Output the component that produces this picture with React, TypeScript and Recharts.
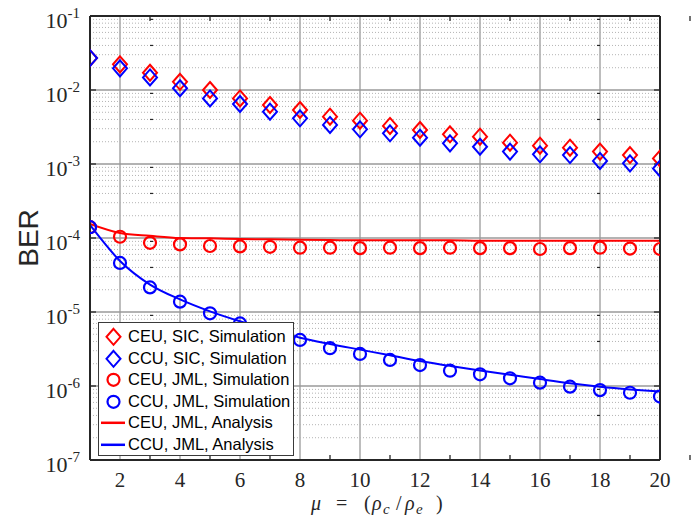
import React from "react";
import { ComposedChart, Line, XAxis, YAxis, CartesianGrid, ReferenceLine, Legend } from "recharts";

const mu = [1, 2, 3, 4, 5, 6, 7, 8, 9, 10, 11, 12, 13, 14, 15, 16, 17, 18, 19, 20];

// SIC simulation (diamonds)
const ceuSicSim = [
  0.027, 0.0222, 0.0171, 0.0129, 0.0100, 0.0077, 0.00627, 0.00537, 0.00436, 0.00385,
  0.00327, 0.00288, 0.00252, 0.00234, 0.00194, 0.00177, 0.00166, 0.00147, 0.00132, 0.00119,
];
const ccuSicSim = [
  0.027, 0.0196, 0.0148, 0.01055, 0.0077, 0.00647, 0.0051, 0.00414, 0.00337, 0.00294,
  0.0026, 0.00227, 0.0019, 0.00171, 0.00147, 0.00135, 0.00132, 0.0011, 0.00102, 0.00087,
];

// JML simulation (circles)
const ceuJmlSim = [
  1.4e-4, 1.04e-4, 8.6e-5, 8.2e-5, 7.8e-5, 7.7e-5, 7.6e-5, 7.4e-5, 7.4e-5, 7.3e-5,
  7.4e-5, 7.3e-5, 7.4e-5, 7.3e-5, 7.3e-5, 7.1e-5, 7.3e-5, 7.4e-5, 7.2e-5, 7.1e-5,
];
const ccuJmlSim = [
  1.4e-4, 4.6e-5, 2.15e-5, 1.38e-5, 9.6e-6, 7.0e-6, 5.4e-6, 4.19e-6, 3.24e-6, 2.71e-6,
  2.25e-6, 1.92e-6, 1.61e-6, 1.44e-6, 1.27e-6, 1.11e-6, 9.8e-7, 8.8e-7, 8.1e-7, 7.2e-7,
];

// JML analysis (lines)
const ceuJmlAna = [
  1.55e-4, 1.17e-4, 1.07e-4, 1.0e-4, 9.9e-5, 9.7e-5, 9.6e-5, 9.5e-5, 9.4e-5, 9.3e-5,
  9.3e-5, 9.3e-5, 9.3e-5, 9.2e-5, 9.2e-5, 9.2e-5, 9.2e-5, 9.2e-5, 9.2e-5, 9.2e-5,
];
const ccuJmlAna = [
  1.5e-4, 4.9e-5, 2.35e-5, 1.48e-5, 1.02e-5, 7.5e-6, 5.8e-6, 4.5e-6, 3.7e-6, 3.1e-6,
  2.6e-6, 2.17e-6, 1.87e-6, 1.62e-6, 1.42e-6, 1.24e-6, 1.09e-6, 0.98e-6, 0.9e-6, 0.84e-6,
];

const xTicks = [2, 4, 6, 8, 10, 12, 14, 16, 18, 20];
const decadeExps = [-7, -6, -5, -4, -3, -2, -1];
const minorMults = [2, 3, 4, 5, 6, 7, 8, 9];

const RED = "#ff0000";
const BLUE = "#0000ff";
const AXIS = "#262626";

const decadeTicks = decadeExps.map((e) => Math.pow(10, e));
const minorTicks = decadeExps.slice(0, -1).flatMap((e) => minorMults.map((m) => m * Math.pow(10, e)));

const data = mu.map((m, i) => ({
  mu: m,
  ceuSic: ceuSicSim[i],
  ccuSic: ccuSicSim[i],
  ceuJml: ceuJmlSim[i],
  ccuJml: ccuJmlSim[i],
  ceuAna: ceuJmlAna[i],
  ccuAna: ccuJmlAna[i],
}));

const legendItems = [
  { label: "CEU, SIC, Simulation", color: RED, kind: "diamond" },
  { label: "CCU, SIC, Simulation", color: BLUE, kind: "diamond" },
  { label: "CEU, JML, Simulation", color: RED, kind: "circle" },
  { label: "CCU, JML, Simulation", color: BLUE, kind: "circle" },
  { label: "CEU, JML, Analysis", color: RED, kind: "line" },
  { label: "CCU, JML, Analysis", color: BLUE, kind: "line" },
];

const diamondPath = (cx: number, cy: number) =>
  `M${cx},${cy - 8}L${cx + 7},${cy}L${cx},${cy + 8}L${cx - 7},${cy}Z`;

const diamondDot = (color: string) => (props: any) => {
  const { cx, cy, index } = props;
  if (cx == null || cy == null) return <g key={index} />;
  return <path key={index} d={diamondPath(cx, cy)} fill="none" stroke={color} strokeWidth={2} />;
};

const circleDot = (color: string) => (props: any) => {
  const { cx, cy, index } = props;
  if (cx == null || cy == null) return <g key={index} />;
  return <circle key={index} cx={cx} cy={cy} r={6} fill="none" stroke={color} strokeWidth={2.2} />;
};

const noTick = () => <g />;

const XTick = ({ x, y, payload }: any) => (
  <text x={x} y={y + 27} textAnchor="middle" fontFamily="Liberation Serif" fontSize={21} fill={AXIS}>
    {payload.value}
  </text>
);

const YTick = ({ x, y, payload }: any) => {
  const exp = Math.round(Math.log10(payload.value));
  return (
    <text x={x} y={y + 12} textAnchor="end" fontFamily="Liberation Serif" fontSize={22} fill={AXIS}>
      <tspan>10</tspan>
      <tspan dy={-10} fontSize={15}>
        {String(exp)}
      </tspan>
    </text>
  );
};

function LegendBox() {
  return (
    <div
      style={{
        width: 196,
        height: 134,
        boxSizing: "border-box",
        border: "1px solid #3a3a3a",
        background: "#fff",
        paddingTop: 3,
        fontFamily: "Liberation Sans",
        fontSize: 16.5,
        color: "#000",
      }}
    >
      {legendItems.map((it) => (
        <div key={it.label} style={{ display: "flex", alignItems: "center", height: 21.6, whiteSpace: "nowrap" }}>
          <svg width={29} height={21.6} style={{ flex: "none" }}>
            {it.kind === "diamond" && <path d={diamondPath(14.5, 10.8)} fill="none" stroke={it.color} strokeWidth={2} />}
            {it.kind === "circle" && <circle cx={14.5} cy={10.8} r={6} fill="none" stroke={it.color} strokeWidth={2.2} />}
            {it.kind === "line" && <line x1={2} x2={26} y1={10.8} y2={10.8} stroke={it.color} strokeWidth={2.5} />}
          </svg>
          <span style={{ lineHeight: "21.6px" }}>{it.label}</span>
        </div>
      ))}
    </div>
  );
}

// x label, laid out like LaTeX math: mu = (rho_c / rho_e)
function XLabel() {
  const base = 510;
  return (
    <text y={base} fontFamily="Liberation Serif" fontSize={20} fill={AXIS}>
      <tspan x={311} fontStyle="italic">μ</tspan>
      <tspan x={336}>=</tspan>
      <tspan x={364}>(</tspan>
      <tspan x={372} fontStyle="italic">ρ</tspan>
      <tspan x={383} y={base + 4} fontStyle="italic" fontSize={15}>c</tspan>
      <tspan x={396} y={base}>/</tspan>
      <tspan x={405} fontStyle="italic">ρ</tspan>
      <tspan x={416} y={base + 4} fontStyle="italic" fontSize={15}>e</tspan>
      <tspan x={436} y={base}>)</tspan>
    </text>
  );
}

export default function App() {
  return (
    <div style={{ position: "absolute", left: 0, top: 0, width: 692, height: 522, background: "#fff" }}>
      <ComposedChart width={692} height={522} data={data} margin={{ top: 16, right: 32, bottom: 22, left: 0 }}>
        <CartesianGrid xAxisId="x" yAxisId="y" stroke="#9a9a9a" strokeWidth={1.3} />
        {minorTicks.map((v) => (
          <ReferenceLine
            key={v}
            xAxisId="x"
            yAxisId="y"
            y={v}
            stroke="#b4b4b4"
            strokeWidth={1}
            strokeDasharray="1 2"
          />
        ))}
        <XAxis
          xAxisId="x"
          dataKey="mu"
          type="number"
          domain={[1, 20]}
          ticks={xTicks}
          height={40}
          tickSize={0}
          tickMargin={0}
          tickLine={false}
          tick={<XTick />}
          axisLine={{ stroke: AXIS, strokeWidth: 2 }}
          allowDataOverflow
        />
        <XAxis
          xAxisId="xb"
          type="number"
          domain={[1, 20]}
          ticks={xTicks}
          orientation="bottom"
          mirror
          tickSize={5}
          tick={noTick}
          tickLine={{ stroke: AXIS, strokeWidth: 1.3 }}
          axisLine={false}
          allowDataOverflow
        />
        <XAxis
          xAxisId="xt"
          type="number"
          domain={[1, 20]}
          ticks={xTicks}
          orientation="top"
          mirror
          tickSize={5}
          tick={noTick}
          tickLine={{ stroke: AXIS, strokeWidth: 1.3 }}
          axisLine={{ stroke: AXIS, strokeWidth: 2 }}
          allowDataOverflow
        />
        <YAxis
          yAxisId="y"
          scale="log"
          domain={[1e-7, 1e-1]}
          ticks={decadeTicks}
          width={90}
          tickSize={0}
          tickMargin={10}
          tickLine={false}
          tick={<YTick />}
          axisLine={{ stroke: AXIS, strokeWidth: 2 }}
          allowDataOverflow
        />
        <YAxis
          yAxisId="yl"
          scale="log"
          domain={[1e-7, 1e-1]}
          ticks={decadeTicks}
          mirror
          tickSize={6}
          tick={noTick}
          tickLine={{ stroke: AXIS, strokeWidth: 1.3 }}
          axisLine={false}
          allowDataOverflow
        />
        <YAxis
          yAxisId="ylm"
          scale="log"
          domain={[1e-7, 1e-1]}
          ticks={minorTicks}
          mirror
          tickSize={3}
          tick={noTick}
          tickLine={{ stroke: AXIS, strokeWidth: 1.2 }}
          axisLine={false}
          allowDataOverflow
        />
        <YAxis
          yAxisId="yr"
          orientation="right"
          scale="log"
          domain={[1e-7, 1e-1]}
          ticks={decadeTicks}
          mirror
          tickSize={6}
          tick={noTick}
          tickLine={{ stroke: AXIS, strokeWidth: 1.3 }}
          axisLine={{ stroke: AXIS, strokeWidth: 2 }}
          allowDataOverflow
        />
        <YAxis
          yAxisId="yrm"
          orientation="right"
          scale="log"
          domain={[1e-7, 1e-1]}
          ticks={minorTicks}
          mirror
          tickSize={3}
          tick={noTick}
          tickLine={{ stroke: AXIS, strokeWidth: 1.2 }}
          axisLine={false}
          allowDataOverflow
        />
        <Line xAxisId="x" yAxisId="y" dataKey="ceuSic" stroke="none" dot={diamondDot(RED)} activeDot={false} isAnimationActive={false} />
        <Line xAxisId="x" yAxisId="y" dataKey="ccuSic" stroke="none" dot={diamondDot(BLUE)} activeDot={false} isAnimationActive={false} />
        <Line xAxisId="x" yAxisId="y" dataKey="ceuJml" stroke="none" dot={circleDot(RED)} activeDot={false} isAnimationActive={false} />
        <Line xAxisId="x" yAxisId="y" dataKey="ccuJml" stroke="none" dot={circleDot(BLUE)} activeDot={false} isAnimationActive={false} />
        <Line xAxisId="x" yAxisId="y" type="monotone" dataKey="ceuAna" stroke={RED} strokeWidth={2} dot={false} activeDot={false} isAnimationActive={false} />
        <Line xAxisId="x" yAxisId="y" type="monotone" dataKey="ccuAna" stroke={BLUE} strokeWidth={2} dot={false} activeDot={false} isAnimationActive={false} />
        <Legend
          layout="vertical"
          align="center"
          verticalAlign="middle"
          wrapperStyle={{ left: 98, top: 322, width: 196 }}
          content={() => <LegendBox />}
        />
      </ComposedChart>
      <svg width={692} height={522} style={{ position: "absolute", left: 0, top: 0, pointerEvents: "none" }}>
        <text
          x={38}
          y={238}
          transform="rotate(-90 38 238)"
          textAnchor="middle"
          fontFamily="Liberation Sans"
          fontSize={28}
          fill={AXIS}
        >
          BER
        </text>
        <XLabel />
      </svg>
    </div>
  );
}
